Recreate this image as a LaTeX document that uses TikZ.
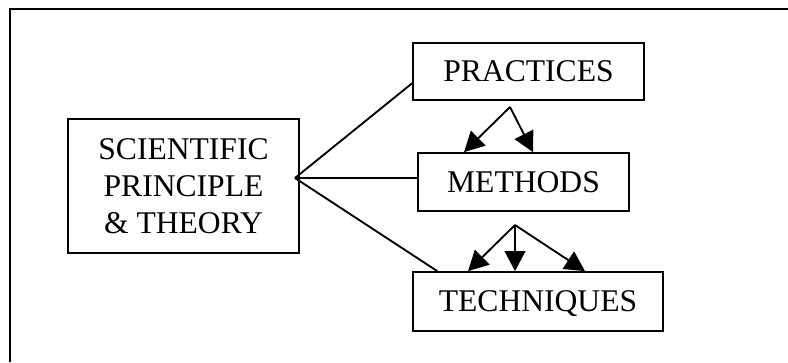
\documentclass[tikz,border=0pt]{standalone}
\usepackage{fontspec}
\setmainfont{Liberation Serif}
\usetikzlibrary{arrows.meta, calc}

\begin{document}
\begin{tikzpicture}[x=0.75pt, y=-0.75pt,
  box/.style={draw, line width=1.3pt, inner sep=0pt, font=\fontsize{23.7}{27.75}\selectfont},
  onebox/.style={box, text depth=0pt},
  link/.style={line width=1.4pt},
  arr/.style={line width=1.4pt, -{Triangle[length=15pt, width=15.5pt]}}]
  \useasboundingbox (0,0) rectangle (788,362);
  % Frame
  \draw[line width=1.8pt] (10,362) -- (10,9) -- (788,9);
  % Boxes
  \node[box, align=center, minimum width=173.25pt, minimum height=100.5pt] (sci) at (183.5,186)
    {SCIENTIFIC\\PRINCIPLE\\\& THEORY};
  \node[onebox, minimum width=173.25pt, minimum height=42.75pt] (prac) at (528.5,71.5) {PRACTICES};
  \node[onebox, minimum width=158.25pt, minimum height=43.5pt] (met) at (523.5,182) {METHODS};
  \node[onebox, minimum width=187.5pt, minimum height=44.25pt] (tech) at (538,301.5) {TECHNIQUES};
  % Fan from the principle box
  \coordinate (fan) at (295,178);
  \draw[link] (fan) -- ($(prac.south west)!0.3!(prac.north west)$);
  \draw[link] (fan) -- (fan -| met.west);
  \draw[link] (fan) -- ($(tech.north west)!0.1!(tech.north east)$);
  % Arrows
  \coordinate (pfork) at (510,107);
  \draw[arr] (pfork) -- (464,0 |- met.north);
  \draw[arr] (pfork) -- (533,0 |- met.north);
  \coordinate (mfork) at (515,225);
  \foreach \x in {468,515,585}
    \draw[arr] (mfork) -- (\x,0 |- tech.north);
\end{tikzpicture}
\end{document}
